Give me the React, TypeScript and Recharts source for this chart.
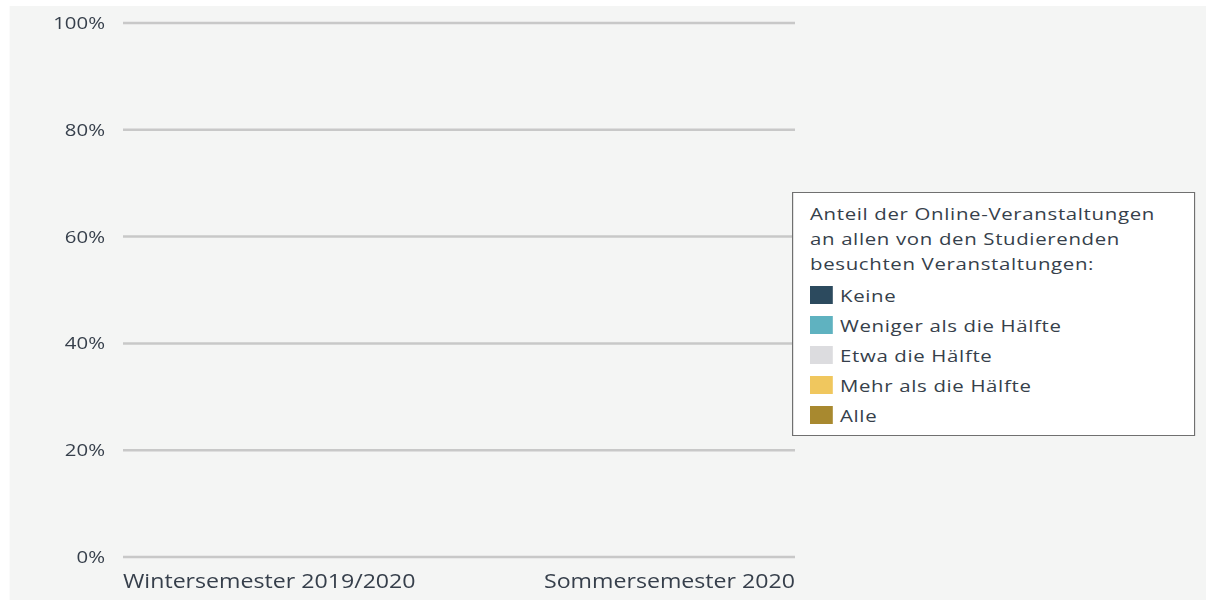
import { BarChart, Bar, XAxis, YAxis, CartesianGrid, Legend } from 'recharts';

// the reference is stretched sideways, so the chart is drawn narrow and scaled
const STRETCH = 1.2;
const FONT = '"Open Sans", "DejaVu Sans", sans-serif';
const TEXT = '#363f4b';

const semesters = ['Wintersemester 2019/2020', 'Sommersemester 2020'];
const yTicks = [0, 20, 40, 60, 80, 100];

// no bar is visible in the reference, so every share is 0
const keine = [0, 0];
const weniger = [0, 0];
const etwa = [0, 0];
const mehr = [0, 0];
const alle = [0, 0];

const seriesNames = [
  'Keine',
  'Weniger als die Hälfte',
  'Etwa die Hälfte',
  'Mehr als die Hälfte',
  'Alle',
];
const seriesColors = ['#2c4a5e', '#5fb2c0', '#dcdcdf', '#f0c75e', '#a8892f'];
const legendTitle = [
  'Anteil der Online-Veranstaltungen',
  'an allen von den Studierenden',
  'besuchten Veranstaltungen:',
];

const data = semesters.map((name, i) => ({
  name,
  keine: keine[i],
  weniger: weniger[i],
  etwa: etwa[i],
  mehr: mehr[i],
  alle: alle[i],
}));
const keys = ['keine', 'weniger', 'etwa', 'mehr', 'alle'];

const SemesterTick = (props: any) => {
  const { x, y, payload, index } = props;
  const last = index === semesters.length - 1;
  return (
    <text
      x={x}
      y={y}
      dy={31}
      textAnchor={last ? 'end' : 'start'}
      fill={TEXT}
      fontSize={19.3}
      fontFamily={FONT}>
      {payload.value}
    </text>
  );
};

// legend keeps the series order (recharts would sort it by name)
const renderLegend = () => (
  <div
    style={{
      boxSizing: 'border-box',
      width: 336,
      height: 244,
      background: '#ffffff',
      border: '1.5px solid #707070',
      padding: '8px 0 0 14px',
      fontFamily: FONT,
      fontSize: 17,
      letterSpacing: 0.55,
      color: TEXT,
    }}>
    {legendTitle.map((line) => (
      <div key={line} style={{ lineHeight: '25px' }}>
        {line}
      </div>
    ))}
    <div style={{ height: 4 }} />
    {seriesNames.map((name, i) => (
      <div
        key={name}
        style={{ display: 'flex', alignItems: 'center', height: 30 }}>
        <span
          style={{
            display: 'inline-block',
            width: 19,
            height: 18,
            background: seriesColors[i],
            marginRight: 6,
          }}
        />
        <span>{name}</span>
      </div>
    ))}
  </div>
);

export default function App() {
  const w = 1206 / STRETCH;
  return (
    <div
      style={{
        position: 'absolute',
        left: 0,
        top: 0,
        width: 1206,
        height: 605,
        background: '#ffffff',
        overflow: 'hidden',
      }}>
      <div
        style={{
          position: 'absolute',
          left: 0,
          top: 0,
          width: w,
          height: 605,
          transform: `scaleX(${STRETCH})`,
          transformOrigin: '0 0',
        }}>
        <div
          style={{
            position: 'absolute',
            left: 10 / STRETCH,
            top: 6,
            width: 1196 / STRETCH,
            height: 594,
            background: '#f4f5f4',
          }}
        />
        <div style={{ position: 'absolute', left: 0, top: 0 }}>
          <BarChart
            width={w}
            height={605}
            data={data}
            margin={{ top: 23, right: w - 795 / STRETCH, bottom: 18, left: 0 }}>
            <CartesianGrid
              vertical={false}
              stroke="#c8c8c8"
              strokeWidth={2.5}
            />
            <XAxis
              dataKey="name"
              scale="point"
              height={30}
              padding={{ left: 0, right: 0 }}
              axisLine={false}
              tickLine={false}
              tickSize={0}
              tickMargin={0}
              interval={0}
              tick={<SemesterTick />}
            />
            <YAxis
              width={123 / STRETCH}
              domain={[0, 100]}
              ticks={yTicks}
              tickFormatter={(v) => `${v}%`}
              axisLine={false}
              tickLine={false}
              tickSize={0}
              tickMargin={15}
              tick={{ fill: TEXT, fontSize: 17, fontFamily: FONT }}
            />
            {keys.map((k, i) => (
              <Bar
                key={k}
                dataKey={k}
                name={seriesNames[i]}
                stackId="a"
                fill={seriesColors[i]}
                barSize={120}
                isAnimationActive={false}
              />
            ))}
            <Legend
              layout="horizontal"
              verticalAlign="middle"
              align="center"
              width={336}
              height={244}
              wrapperStyle={{ left: 792 / STRETCH, top: 192, width: 336, height: 244 }}
              content={renderLegend}
            />
          </BarChart>
        </div>
      </div>
    </div>
  );
}
